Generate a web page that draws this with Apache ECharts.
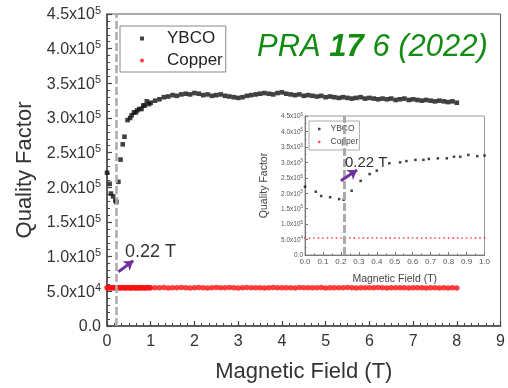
<!DOCTYPE html>
<html>
<head>
<meta charset="utf-8">
<script src="https://cdn.jsdelivr.net/npm/echarts@6/dist/echarts.min.js"></script>
<style>
  html, body { margin: 0; padding: 0; background: #fff; }
  #chart { width: 508px; height: 388px; }
</style>
</head>
<body>
<div id="chart"></div>
<script>
// YBCO quality factor vs field (T, Q in units of 1e3)
const ybcoField = [0.00, 0.06, 0.09, 0.14, 0.19, 0.215, 0.26, 0.31, 0.36, 0.40, 0.47, 0.53, 0.565, 0.615, 0.66, 0.69, 0.74, 0.79, 0.83, 0.865, 0.91, 0.96,
  1.0, 1.1, 1.2, 1.3, 1.4, 1.5, 1.6, 1.7, 1.8, 1.9,
  2.0, 2.1, 2.2, 2.3, 2.4, 2.5, 2.6, 2.7, 2.8, 2.9,
  3.0, 3.1, 3.2, 3.3, 3.4, 3.5, 3.6, 3.7, 3.8, 3.9,
  4.0, 4.1, 4.2, 4.3, 4.4, 4.5, 4.6, 4.7, 4.8, 4.9,
  5.0, 5.1, 5.2, 5.3, 5.4, 5.5, 5.6, 5.7, 5.8, 5.9,
  6.0, 6.1, 6.2, 6.3, 6.4, 6.5, 6.6, 6.7, 6.8, 6.9,
  7.0, 7.1, 7.2, 7.3, 7.4, 7.5, 7.6, 7.7, 7.8, 7.9, 8.0];
const ybcoQ = [221, 205, 191, 187, 181, 179, 208, 240, 262, 273, 297, 300, 304, 308, 308, 311, 313, 313, 318, 318, 324, 320,
  322, 325, 327, 330, 331, 333, 332, 334, 335, 334,
  336, 335, 333, 334, 332, 333, 334, 332, 331, 330,
  329, 330, 332, 333, 334, 335, 336, 335, 334, 336,
  337, 335, 334, 333, 334, 332, 333, 332, 331, 332,
  330, 331, 330, 329, 330, 329, 328, 329, 330, 328,
  329, 328, 327, 328, 327, 328, 326, 327, 328, 326,
  327, 326, 325, 326, 325, 324, 325, 324, 323, 324, 322];

// Copper reference cavity
const copperField = [0.000, 0.025, 0.050, 0.075, 0.100, 0.125, 0.150, 0.175, 0.200, 0.225,
  0.250, 0.275, 0.300, 0.325, 0.350, 0.375, 0.400, 0.425, 0.450, 0.475,
  0.500, 0.525, 0.550, 0.575, 0.600, 0.625, 0.650, 0.675, 0.700, 0.725,
  0.750, 0.775, 0.800, 0.825, 0.850, 0.875, 0.900, 0.925, 0.950, 0.975, 1.000,
  1.1, 1.2, 1.3, 1.4, 1.5, 1.6, 1.7, 1.8, 1.9, 2.0,
  2.1, 2.2, 2.3, 2.4, 2.5, 2.6, 2.7, 2.8, 2.9, 3.0,
  3.1, 3.2, 3.3, 3.4, 3.5, 3.6, 3.7, 3.8, 3.9, 4.0,
  4.1, 4.2, 4.3, 4.4, 4.5, 4.6, 4.7, 4.8, 4.9, 5.0,
  5.1, 5.2, 5.3, 5.4, 5.5, 5.6, 5.7, 5.8, 5.9, 6.0,
  6.1, 6.2, 6.3, 6.4, 6.5, 6.6, 6.7, 6.8, 6.9, 7.0,
  7.1, 7.2, 7.3, 7.4, 7.5, 7.6, 7.7, 7.8, 7.9, 8.0];
const copperQ = [55.2, 54.8, 55.5, 55.1, 54.9, 55.3, 55.6, 55.0, 54.7, 55.2,
  55.4, 55.1, 54.9, 55.3, 55.0, 55.5, 55.2, 54.8, 55.1, 55.4,
  55.0, 55.3, 54.9, 55.2, 55.6, 55.1, 54.8, 55.0, 55.3, 55.2,
  54.9, 55.4, 55.1, 55.0, 55.3, 54.8, 55.2, 55.5, 55.0, 55.1, 55.3,
  55.2, 55.0, 55.4, 54.9, 55.3, 55.1, 55.6, 55.2, 54.8, 55.3,
  55.5, 55.1, 54.9, 55.2, 55.4, 55.0, 55.3, 55.6, 55.1, 54.9,
  55.2, 55.4, 55.0, 55.3, 55.1, 54.8, 55.2, 55.5, 55.1, 55.0,
  55.3, 55.2, 54.9, 55.4, 55.1, 55.3, 55.0, 55.2, 55.5, 54.9,
  55.1, 55.3, 55.2, 55.0, 55.4, 55.1, 54.8, 55.2, 55.3, 55.0,
  55.1, 55.4, 55.2, 54.9, 55.3, 55.0, 55.2, 55.1, 54.9, 55.3,
  55.0, 55.2, 54.8, 55.1, 55.0, 54.9, 55.2, 54.8, 55.0, 54.9];

// annotations
const transitionField = 0.22;
const mainArrow = [[0.26, 78000], [0.60, 94000]];
const insetArrow = [[0.20, 240000], [0.29, 275000]];

const FONT = 'Liberation Sans, Arial, sans-serif';

const ybcoData = ybcoField.map((f, i) => [f, ybcoQ[i] * 1000]);
const copperData = copperField.map((f, i) => [f, copperQ[i] * 1000]);

function sci(v) {
  if (v === 0) return '{m|0.0}';
  const e = Math.floor(Math.log10(v) + 1e-9);
  const m = (v / Math.pow(10, e)).toFixed(1);
  return '{m|' + m + 'x10}{s|' + e + '}';
}

function arrowLine(pts, width) {
  return [
    { coord: pts[0], symbol: 'none', lineStyle: { color: '#7030a0', width: width, type: 'solid' } },
    { coord: pts[1], symbol: 'arrow', symbolSize: width * 3 }
  ];
}

const chart = echarts.init(document.getElementById('chart'), null, { renderer: 'canvas' });

const option = {
  animation: false,
  backgroundColor: '#fff',
  textStyle: { fontFamily: FONT },
  title: {
    left: 252,
    top: 27,
    text: '{a|PRA }{b|17}{a| 6 (2022)}',
    textStyle: {
      fontWeight: 'normal',
      rich: {
        a: { fontSize: 31, fontStyle: 'italic', fontWeight: 'normal', color: '#148c14', fontFamily: FONT },
        b: { fontSize: 31, fontStyle: 'italic', fontWeight: 'bold', color: '#148c14', fontFamily: FONT }
      }
    }
  },
  legend: [
    {
      orient: 'vertical',
      left: 120,
      top: 26,
      padding: [4, 3, 3, 20],
      itemWidth: 4,
      itemHeight: 4,
      itemGap: 5,
      borderColor: '#888',
      borderWidth: 1,
      selectedMode: false,
      data: [{ name: 'YBCO', icon: 'rect' }, { name: 'Copper', icon: 'circle' }],
      formatter: n => '{g|}{t|' + n + '}',
      textStyle: {
        rich: {
          g: { width: 18 },
          t: { fontSize: 17, lineHeight: 18, color: '#222', fontFamily: FONT }
        }
      }
    },
    {
      orient: 'vertical',
      left: 309,
      top: 121,
      padding: [2, 1, 2, 9],
      itemWidth: 2.5,
      itemHeight: 2.5,
      itemGap: 1,
      borderColor: '#aaa',
      borderWidth: 1,
      selectedMode: false,
      data: [{ name: 'YBCO', icon: 'rect' }, { name: 'Copper', icon: 'circle' }],
      formatter: n => '{g|}{t|' + n + '}',
      textStyle: {
        rich: {
          g: { width: 5 },
          t: { fontSize: 8.5, lineHeight: 9, color: '#444', fontFamily: FONT }
        }
      }
    }
  ],
  grid: [
    { left: 107, right: 2.5, top: 14, bottom: 61.5, show: true, borderColor: '#555', borderWidth: 1, backgroundColor: 'transparent' },
    { left: 305, right: 23.5, top: 116, bottom: 133, show: true, borderColor: '#999', borderWidth: 1, backgroundColor: 'transparent' }
  ],
  xAxis: [
    {
      gridIndex: 0,
      type: 'value',
      min: 0, max: 9, interval: 1,
      name: 'Magnetic Field (T)',
      nameLocation: 'middle',
      nameGap: 35,
      nameTextStyle: { fontSize: 22, color: '#333', fontFamily: FONT },
      axisLine: { onZero: false, lineStyle: { color: '#444', width: 1.5 } },
      axisTick: { inside: true, length: 5, lineStyle: { color: '#444', width: 1.2 } },
      minorTick: { show: true, splitNumber: 6, length: 3, lineStyle: { color: '#444', width: 1 } },
      axisLabel: { fontSize: 16, color: '#333', margin: 8 },
      splitLine: { show: false }
    },
    {
      gridIndex: 1,
      type: 'value',
      min: 0, max: 1, interval: 0.1,
      name: 'Magnetic Field (T)',
      nameLocation: 'middle',
      nameGap: 19,
      nameTextStyle: { fontSize: 10.5, color: '#444', fontFamily: FONT },
      axisLine: { onZero: false, lineStyle: { color: '#777', width: 1 } },
      axisTick: { inside: true, length: 3, lineStyle: { color: '#777' } },
      minorTick: { show: true, splitNumber: 2, length: 1.5, lineStyle: { color: '#777' } },
      axisLabel: { fontSize: 8, color: '#555', margin: 3, formatter: v => v.toFixed(1) },
      splitLine: { show: false }
    }
  ],
  yAxis: [
    {
      gridIndex: 0,
      type: 'value',
      min: 0, max: 450000, interval: 50000,
      name: 'Quality Factor',
      nameLocation: 'middle',
      nameGap: 71,
      nameTextStyle: { fontSize: 22, color: '#333', fontFamily: FONT },
      axisLine: { show: true, lineStyle: { color: '#444', width: 1.5 } },
      axisTick: { inside: true, length: 5, lineStyle: { color: '#444', width: 1.2 } },
      minorTick: { show: true, splitNumber: 5, length: 3, lineStyle: { color: '#444', width: 1 } },
      axisLabel: {
        margin: 6,
        formatter: sci,
        rich: {
          m: { fontSize: 16, lineHeight: 18, verticalAlign: 'bottom', color: '#333', fontFamily: FONT },
          s: { fontSize: 11, lineHeight: 11, verticalAlign: 'top', color: '#333', fontFamily: FONT }
        }
      },
      splitLine: { show: false }
    },
    {
      gridIndex: 1,
      type: 'value',
      min: 0, max: 450000, interval: 50000,
      name: 'Quality Factor',
      nameLocation: 'middle',
      nameGap: 35,
      nameTextStyle: { fontSize: 10.5, color: '#444', fontFamily: FONT },
      axisLine: { show: true, lineStyle: { color: '#777', width: 1 } },
      axisTick: { inside: true, length: 3, lineStyle: { color: '#777' } },
      minorTick: { show: true, splitNumber: 2, length: 1.5, lineStyle: { color: '#777' } },
      axisLabel: {
        margin: 2,
        formatter: sci,
        rich: {
          m: { fontSize: 6.5, lineHeight: 8, verticalAlign: 'bottom', color: '#555', fontFamily: FONT },
          s: { fontSize: 4.5, lineHeight: 4.5, verticalAlign: 'top', color: '#555', fontFamily: FONT }
        }
      },
      splitLine: { show: false }
    }
  ],
  graphic: [
    { type: 'text', left: 125, top: 243, z: 100,
      style: { text: '0.22 T', fontSize: 18, fill: '#333', fontFamily: FONT } },
    { type: 'text', left: 345, top: 155, z: 100,
      style: { text: '0.22 T', fontSize: 15, fill: '#333', fontFamily: FONT } }
  ],
  series: [
    {
      name: 'Copper',
      type: 'scatter',
      xAxisIndex: 0, yAxisIndex: 0,
      symbol: 'circle',
      symbolSize: 5.5,
      itemStyle: { color: '#ff1010' },
      data: copperData,
      markLine: {
        silent: true,
        symbol: ['none', 'none'],
        label: { show: false },
        lineStyle: { color: '#aaa', width: 2.5, type: [8, 3] },
        data: [{ xAxis: transitionField }]
      }
    },
    {
      name: 'YBCO',
      type: 'scatter',
      xAxisIndex: 0, yAxisIndex: 0,
      symbol: 'rect',
      symbolSize: 4.6,
      itemStyle: { color: '#111' },
      data: ybcoData,
      markLine: {
        silent: true,
        symbol: ['none', 'none'],
        label: { show: false },
        data: [arrowLine(mainArrow, 3)]
      }
    },
    {
      name: 'Copper',
      type: 'scatter',
      xAxisIndex: 1, yAxisIndex: 1,
      symbol: 'circle',
      symbolSize: 1.8,
      itemStyle: { color: '#ff2020' },
      data: copperData,
      markLine: {
        silent: true,
        symbol: ['none', 'none'],
        label: { show: false },
        lineStyle: { color: '#aaa', width: 3, type: [8, 3] },
        data: [{ xAxis: transitionField }]
      }
    },
    {
      name: 'YBCO',
      type: 'scatter',
      xAxisIndex: 1, yAxisIndex: 1,
      symbol: 'rect',
      symbolSize: 2.5,
      itemStyle: { color: '#111' },
      data: ybcoData,
      markLine: {
        silent: true,
        symbol: ['none', 'none'],
        label: { show: false },
        data: [arrowLine(insetArrow, 3)]
      }
    }
  ]
};

chart.setOption(option);
</script>
</body>
</html>
